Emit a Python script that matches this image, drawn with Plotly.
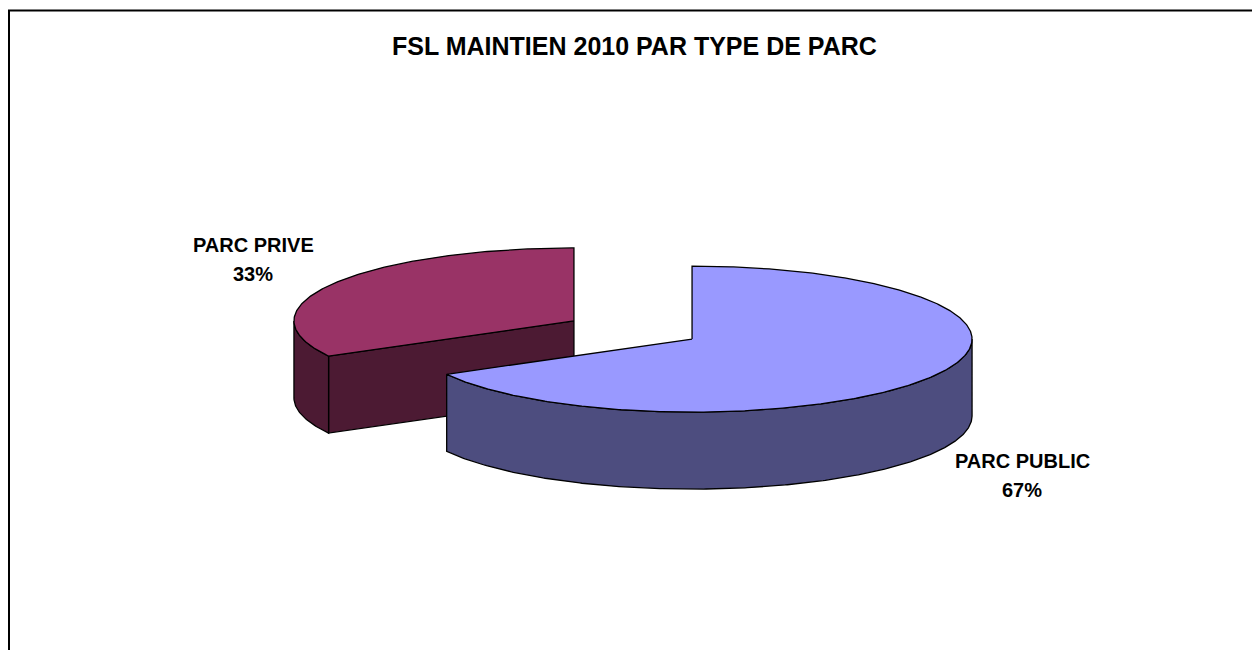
import math
import plotly.graph_objects as go

# ---------------- data ----------------
categories = ["PARC PUBLIC", "PARC PRIVE"]
values = [67, 33]
title_text = "FSL MAINTIEN 2010 PAR TYPE DE PARC"

# ---------------- style ----------------
top_colors = ["#9999FF", "#993366"]
side_colors = ["#4D4D7F", "#4C1A33"]
W, H = 1252, 650
CX, CY = 633, 330          # pie centre (pixel space)
RX, RY = 280, 73           # ellipse radii of the top face
DEPTH = 77                 # thickness of the pie
EXPLODE = [0.245, 0.245]   # explosion as fraction of radius
FONT = "Liberation Sans, Arial, sans-serif"
label_pos = [(1022, 461, 490), (253, 245, 274)]

total = sum(values)
fig = go.Figure()


def pt(cx, cy, t, dz=0.0):
    r = math.radians(t)
    return cx + RX * math.cos(r), cy - RY * math.sin(r) + dz


def arc(cx, cy, a, b, dz=0.0, step=0.5):
    n = max(2, int(abs(b - a) / step) + 1)
    return [pt(cx, cy, a + (b - a) * i / (n - 1), dz) for i in range(n)]


def poly(points, color):
    xs = [p[0] for p in points] + [points[0][0]]
    ys = [p[1] for p in points] + [points[0][1]]
    fig.add_trace(go.Scatter(x=xs, y=ys, mode="lines", fill="toself",
                             fillcolor=color,
                             line=dict(color="black", width=1.3),
                             hoverinfo="skip", showlegend=False))


# slice geometry (start at 12 o'clock, clockwise)
slices = []
cum = 0.0
for i, v in enumerate(values):
    a_end = 90 - cum / total * 360
    cum += v
    a_start = 90 - cum / total * 360
    mid = (a_start + a_end) / 2
    cx = CX + EXPLODE[i] * RX * math.cos(math.radians(mid))
    cy = CY - EXPLODE[i] * RY * math.sin(math.radians(mid))
    slices.append(dict(i=i, a0=a_start, a1=a_end, cx=cx, cy=cy, mid=mid))

# draw back slices first
for s in sorted(slices, key=lambda s: s["cy"]):
    i, a0, a1, cx, cy = s["i"], s["a0"], s["a1"], s["cx"], s["cy"]
    # radial faces facing the viewer
    for ang, normal in ((a0, a0 - 90), (a1, a1 + 90)):
        if math.sin(math.radians(normal)) < -1e-6:
            e = pt(cx, cy, ang)
            poly([(cx, cy), e, (e[0], e[1] + DEPTH), (cx, cy + DEPTH)],
                 side_colors[i])
    # outer wall on the front half
    for k in range(-2, 3):
        lo, hi = max(a0, -180 + 360 * k), min(a1, 360 * k)
        if hi - lo > 0.01:
            top = arc(cx, cy, lo, hi)
            bot = arc(cx, cy, hi, lo, DEPTH)
            poly(top + bot, side_colors[i])
    # top face
    poly([(cx, cy)] + arc(cx, cy, a0, a1), top_colors[i])

# labels
for i, s in enumerate(slices):
    pct = round(values[i] / total * 100)
    x, y1, y2 = label_pos[i]
    for txt, yy in ((categories[i], y1), (f"{pct}%", y2)):
        fig.add_annotation(x=x, y=yy, xref="x", yref="y", showarrow=False,
                           text=f"<b>{txt}</b>",
                           font=dict(family=FONT, size=20, color="black"))

fig.add_annotation(x=634, y=46, xref="x", yref="y", showarrow=False,
                   text=f"<b>{title_text}</b>",
                   font=dict(family=FONT, size=25, color="black"))

fig.add_shape(type="rect", x0=9, y0=10.5, x1=W + 20, y1=H + 20,
              xref="x", yref="y", line=dict(color="black", width=2),
              layer="above")

fig.update_layout(
    width=W, height=H, margin=dict(l=0, r=0, t=0, b=0),
    paper_bgcolor="white", plot_bgcolor="white",
    xaxis=dict(range=[0, W], visible=False, fixedrange=True),
    yaxis=dict(range=[H, 0], visible=False, fixedrange=True),
    showlegend=False,
)

fig.write_html("out.html",
               config={"displayModeBar": False},
               post_script="document.body.style.margin='0';"
                           "document.body.style.overflow='hidden';")
